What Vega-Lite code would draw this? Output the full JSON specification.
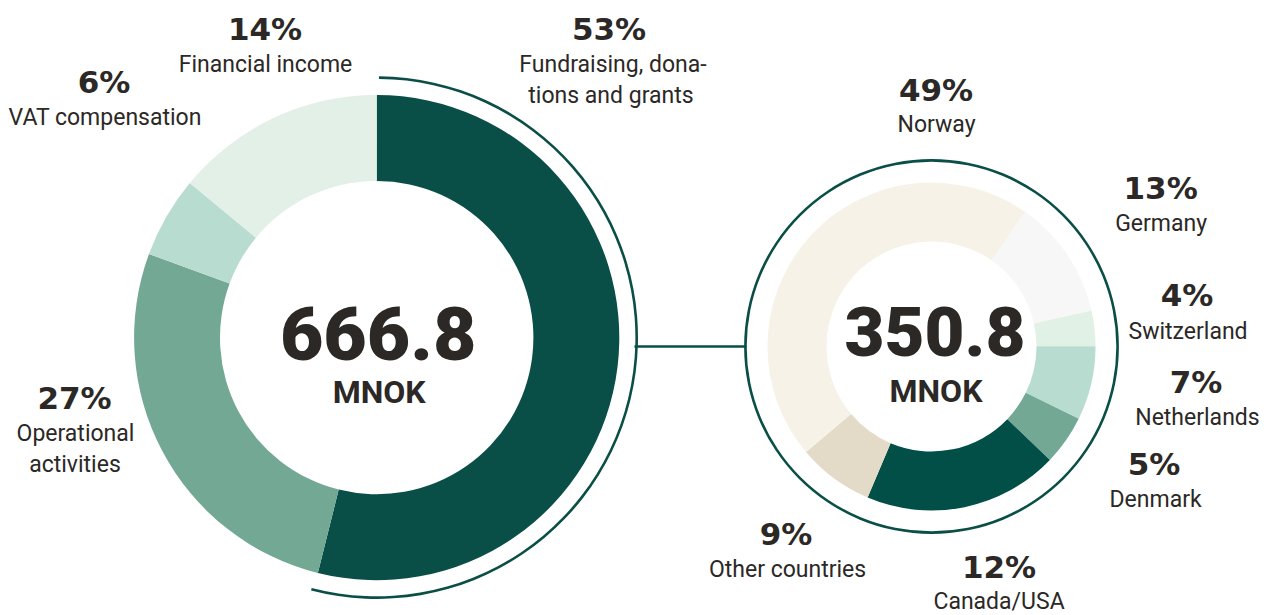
{
  "$schema": "https://vega.github.io/schema/vega-lite/v6.json",
  "width": 1268,
  "height": 615,
  "autosize": "none",
  "padding": 0,
  "background": "white",
  "config": {"view": {"stroke": null}, "text": {"fill": "#2b2826"}},
  "datasets": {
    "parts": [
      {"chart": "left", "key": "Fundraising", "share": 53.9, "order": 1, "pct": "53%", "name1": "Fundraising, dona-", "name2": "tions and grants"},
      {"chart": "left", "key": "Operational", "share": 26.7, "order": 2, "pct": "27%", "name1": "Operational", "name2": "activities"},
      {"chart": "left", "key": "VAT", "share": 5.4, "order": 3, "pct": "6%", "name1": "VAT compensation", "name2": ""},
      {"chart": "left", "key": "Financial", "share": 14.0, "order": 4, "pct": "14%", "name1": "Financial income", "name2": ""},
      {"chart": "right", "key": "Germany", "share": 11.8, "order": 1, "pct": "13%", "name1": "Germany", "name2": ""},
      {"chart": "right", "key": "Switzerland", "share": 3.5, "order": 2, "pct": "4%", "name1": "Switzerland", "name2": ""},
      {"chart": "right", "key": "Netherlands", "share": 7.3, "order": 3, "pct": "7%", "name1": "Netherlands", "name2": ""},
      {"chart": "right", "key": "Denmark", "share": 4.9, "order": 4, "pct": "5%", "name1": "Denmark", "name2": ""},
      {"chart": "right", "key": "Canada/USA", "share": 19.2, "order": 5, "pct": "12%", "name1": "Canada/USA", "name2": ""},
      {"chart": "right", "key": "Other countries", "share": 7.5, "order": 6, "pct": "9%", "name1": "Other countries", "name2": ""},
      {"chart": "right", "key": "Norway", "share": 45.8, "order": 7, "pct": "49%", "name1": "Norway", "name2": ""}
    ],
    "totals": [
      {"chart": "left", "total": "666.8", "unit": "MNOK"},
      {"chart": "right", "total": "350.8", "unit": "MNOK"}
    ]
  },
  "resolve": {"scale": {"theta": "independent"}},
  "layer": [
    {
      "data": {"name": "totals"},
      "encoding": {
        "x": {"field": "chart", "type": "nominal", "axis": null, "scale": {"type": "point", "domain": ["left", "right"], "range": [376.7, 931.5], "padding": 0}},
        "y": {"field": "chart", "type": "nominal", "axis": null, "scale": {"type": "point", "domain": ["left", "right"], "range": [337.6, 346.5], "padding": 0}}
      },
      "layer": [
        {
          "transform": [{"filter": "datum.chart === 'left'"}],
          "mark": {"type": "rule", "color": "#0a4f47", "strokeWidth": 2.6},
          "encoding": {
            "x": {"datum": "left", "type": "nominal"},
            "x2": {"datum": "right"},
            "y": {"datum": "right", "type": "nominal"}
          }
        },
        {
          "transform": [{"filter": "datum.chart === 'left'"}],
          "mark": {"type": "arc", "fill": "white", "innerRadius": 0, "outerRadius": 258, "theta": 0, "theta2": 6.2832}
        },
        {
          "transform": [{"filter": "datum.chart === 'right'"}],
          "mark": {"type": "arc", "fill": "white", "innerRadius": 0, "outerRadius": 185, "theta": 0, "theta2": 6.2832}
        },
        {
          "transform": [{"filter": "datum.chart === 'right'"}],
          "mark": {"type": "arc", "fill": "#0a4f47", "innerRadius": 184.8, "outerRadius": 187.4, "theta": 0, "theta2": 6.2832}
        }
      ]
    },
    {
      "data": {"name": "parts"},
      "transform": [{"filter": "datum.chart === 'left'"}],
      "encoding": {
        "x": {"field": "chart", "type": "nominal", "axis": null, "scale": {"type": "point", "domain": ["left", "right"], "range": [376.7, 931.5], "padding": 0}},
        "y": {"field": "chart", "type": "nominal", "axis": null, "scale": {"type": "point", "domain": ["left", "right"], "range": [337.6, 346.5], "padding": 0}},
        "theta": {"field": "share", "type": "quantitative", "stack": true, "scale": {"domain": [0, 100], "range": [0, 6.2832]}},
        "order": {"field": "order", "type": "quantitative"}
      },
      "layer": [
        {
          "mark": {"type": "arc", "innerRadius": 156.7, "outerRadius": 242.6},
          "encoding": {
            "color": {"field": "key", "type": "nominal", "legend": null,
              "scale": {"domain": ["Fundraising", "Operational", "VAT", "Financial", "Germany", "Switzerland", "Netherlands", "Denmark", "Canada/USA", "Other countries", "Norway"],
                        "range": ["#0a4f47", "#72a894", "#b8ddd0", "#e2f0e7", "#f7f7f7", "#e2f1e6", "#b8ddd0", "#72a894", "#024f47", "#e3dac8", "#f6f2e8"]}}
          }
        },
        {
          "transform": [{"filter": "datum.key === 'Fundraising'"}],
          "mark": {"type": "arc", "fill": "#0a4f47", "innerRadius": 258.7, "outerRadius": 261.3, "thetaOffset": 0.009, "theta2Offset": -0.122}
        },
        {"mark": {"type": "text", "radius": 270, "dx": -35.7, "dy": -330.6, "font": "DejaVu Sans", "fontWeight": "bold", "fontSize": 31, "align": "center", "baseline": "alphabetic"},
         "encoding": {"text": {"field": "pct", "type": "nominal", "condition": {"test": "datum.key !== 'Fundraising'", "value": ""}}}},
        {"mark": {"type": "text", "radius": 270, "dx": -31.7, "dy": -298.6, "font": "Roboto", "fontSize": 23, "align": "center", "baseline": "alphabetic"},
         "encoding": {"text": {"field": "name1", "type": "nominal", "condition": {"test": "datum.key !== 'Fundraising'", "value": ""}}}},
        {"mark": {"type": "text", "radius": 270, "dx": -33.7, "dy": -267.6, "font": "Roboto", "fontSize": 23, "align": "center", "baseline": "alphabetic"},
         "encoding": {"text": {"field": "name2", "type": "nominal", "condition": {"test": "datum.key !== 'Fundraising'", "value": ""}}}},
        {"mark": {"type": "text", "radius": 270, "dx": -63.6, "dy": -54.9, "font": "DejaVu Sans", "fontWeight": "bold", "fontSize": 31, "align": "center", "baseline": "alphabetic"},
         "encoding": {"text": {"field": "pct", "type": "nominal", "condition": {"test": "datum.key !== 'Operational'", "value": ""}}}},
        {"mark": {"type": "text", "radius": 270, "dx": -62.6, "dy": -22.9, "font": "Roboto", "fontSize": 23, "align": "center", "baseline": "alphabetic"},
         "encoding": {"text": {"field": "name1", "type": "nominal", "condition": {"test": "datum.key !== 'Operational'", "value": ""}}}},
        {"mark": {"type": "text", "radius": 270, "dx": -63.1, "dy": 8.1, "font": "Roboto", "fontSize": 23, "align": "center", "baseline": "alphabetic"},
         "encoding": {"text": {"field": "name2", "type": "nominal", "condition": {"test": "datum.key !== 'Operational'", "value": ""}}}},
        {"mark": {"type": "text", "radius": 270, "dx": -38.6, "dy": -110.1, "font": "DejaVu Sans", "fontWeight": "bold", "fontSize": 31, "align": "center", "baseline": "alphabetic"},
         "encoding": {"text": {"field": "pct", "type": "nominal", "condition": {"test": "datum.key !== 'VAT'", "value": ""}}}},
        {"mark": {"type": "text", "radius": 270, "dx": -37.6, "dy": -78.1, "font": "Roboto", "fontSize": 23, "align": "center", "baseline": "alphabetic"},
         "encoding": {"text": {"field": "name1", "type": "nominal", "condition": {"test": "datum.key !== 'VAT'", "value": ""}}}},
        {"mark": {"type": "text", "radius": 270, "dx": 3.3, "dy": -53.3, "font": "DejaVu Sans", "fontWeight": "bold", "fontSize": 31, "align": "center", "baseline": "alphabetic"},
         "encoding": {"text": {"field": "pct", "type": "nominal", "condition": {"test": "datum.key !== 'Financial'", "value": ""}}}},
        {"mark": {"type": "text", "radius": 270, "dx": 3.8, "dy": -21.3, "font": "Roboto", "fontSize": 23, "align": "center", "baseline": "alphabetic"},
         "encoding": {"text": {"field": "name1", "type": "nominal", "condition": {"test": "datum.key !== 'Financial'", "value": ""}}}}
      ]
    },
    {
      "data": {"name": "parts"},
      "transform": [{"filter": "datum.chart === 'right'"}],
      "encoding": {
        "x": {"field": "chart", "type": "nominal", "axis": null, "scale": {"type": "point", "domain": ["left", "right"], "range": [376.7, 931.5], "padding": 0}},
        "y": {"field": "chart", "type": "nominal", "axis": null, "scale": {"type": "point", "domain": ["left", "right"], "range": [337.6, 346.5], "padding": 0}},
        "theta": {"field": "share", "type": "quantitative", "stack": true, "scale": {"domain": [0, 100], "range": [0.6074, 6.8906]}},
        "order": {"field": "order", "type": "quantitative"}
      },
      "layer": [
        {
          "mark": {"type": "arc", "innerRadius": 105, "outerRadius": 164},
          "encoding": {
            "color": {"field": "key", "type": "nominal", "legend": null,
              "scale": {"domain": ["Fundraising", "Operational", "VAT", "Financial", "Germany", "Switzerland", "Netherlands", "Denmark", "Canada/USA", "Other countries", "Norway"],
                        "range": ["#0a4f47", "#72a894", "#b8ddd0", "#e2f0e7", "#f7f7f7", "#e2f1e6", "#b8ddd0", "#72a894", "#024f47", "#e3dac8", "#f6f2e8"]}}
          }
        },
        {"mark": {"type": "text", "radius": 200, "dx": 152.3, "dy": -110.8, "font": "DejaVu Sans", "fontWeight": "bold", "fontSize": 31, "align": "center", "baseline": "alphabetic"},
         "encoding": {"text": {"field": "pct", "type": "nominal", "condition": {"test": "datum.key !== 'Norway'", "value": ""}}}},
        {"mark": {"type": "text", "radius": 200, "dx": 152.8, "dy": -79.3, "font": "Roboto", "fontSize": 23, "align": "center", "baseline": "alphabetic"},
         "encoding": {"text": {"field": "name1", "type": "nominal", "condition": {"test": "datum.key !== 'Norway'", "value": ""}}}},
        {"mark": {"type": "text", "radius": 200, "dx": 63.2, "dy": -36.2, "font": "DejaVu Sans", "fontWeight": "bold", "fontSize": 31, "align": "center", "baseline": "alphabetic"},
         "encoding": {"text": {"field": "pct", "type": "nominal", "condition": {"test": "datum.key !== 'Germany'", "value": ""}}}},
        {"mark": {"type": "text", "radius": 200, "dx": 63.7, "dy": -4.2, "font": "Roboto", "fontSize": 23, "align": "center", "baseline": "alphabetic"},
         "encoding": {"text": {"field": "name1", "type": "nominal", "condition": {"test": "datum.key !== 'Germany'", "value": ""}}}},
        {"mark": {"type": "text", "radius": 200, "dx": 56.8, "dy": -18.1, "font": "DejaVu Sans", "fontWeight": "bold", "fontSize": 31, "align": "center", "baseline": "alphabetic"},
         "encoding": {"text": {"field": "pct", "type": "nominal", "condition": {"test": "datum.key !== 'Switzerland'", "value": ""}}}},
        {"mark": {"type": "text", "radius": 200, "dx": 57.8, "dy": 14.9, "font": "Roboto", "fontSize": 23, "align": "center", "baseline": "alphabetic"},
         "encoding": {"text": {"field": "name1", "type": "nominal", "condition": {"test": "datum.key !== 'Switzerland'", "value": ""}}}},
        {"mark": {"type": "text", "radius": 200, "dx": 69.6, "dy": 1.4, "font": "DejaVu Sans", "fontWeight": "bold", "fontSize": 31, "align": "center", "baseline": "alphabetic"},
         "encoding": {"text": {"field": "pct", "type": "nominal", "condition": {"test": "datum.key !== 'Netherlands'", "value": ""}}}},
        {"mark": {"type": "text", "radius": 200, "dx": 71.1, "dy": 33.4, "font": "Roboto", "fontSize": 23, "align": "center", "baseline": "alphabetic"},
         "encoding": {"text": {"field": "name1", "type": "nominal", "condition": {"test": "datum.key !== 'Netherlands'", "value": ""}}}},
        {"mark": {"type": "text", "radius": 200, "dx": 58.6, "dy": 13.4, "font": "DejaVu Sans", "fontWeight": "bold", "fontSize": 31, "align": "center", "baseline": "alphabetic"},
         "encoding": {"text": {"field": "pct", "type": "nominal", "condition": {"test": "datum.key !== 'Denmark'", "value": ""}}}},
        {"mark": {"type": "text", "radius": 200, "dx": 60.2, "dy": 45.9, "font": "Roboto", "fontSize": 23, "align": "center", "baseline": "alphabetic"},
         "encoding": {"text": {"field": "name1", "type": "nominal", "condition": {"test": "datum.key !== 'Denmark'", "value": ""}}}},
        {"mark": {"type": "text", "radius": 200, "dx": 27.2, "dy": 35.6, "font": "DejaVu Sans", "fontWeight": "bold", "fontSize": 31, "align": "center", "baseline": "alphabetic"},
         "encoding": {"text": {"field": "pct", "type": "nominal", "condition": {"test": "datum.key !== 'Canada/USA'", "value": ""}}}},
        {"mark": {"type": "text", "radius": 200, "dx": 27.2, "dy": 67.1, "font": "Roboto", "fontSize": 23, "align": "center", "baseline": "alphabetic"},
         "encoding": {"text": {"field": "name1", "type": "nominal", "condition": {"test": "datum.key !== 'Canada/USA'", "value": ""}}}},
        {"mark": {"type": "text", "radius": 200, "dx": -26.8, "dy": 37.6, "font": "DejaVu Sans", "fontWeight": "bold", "fontSize": 31, "align": "center", "baseline": "alphabetic"},
         "encoding": {"text": {"field": "pct", "type": "nominal", "condition": {"test": "datum.key !== 'Other countries'", "value": ""}}}},
        {"mark": {"type": "text", "radius": 200, "dx": -25.2, "dy": 69.6, "font": "Roboto", "fontSize": 23, "align": "center", "baseline": "alphabetic"},
         "encoding": {"text": {"field": "name1", "type": "nominal", "condition": {"test": "datum.key !== 'Other countries'", "value": ""}}}}
      ]
    },
    {
      "data": {"name": "totals"},
      "encoding": {
        "x": {"field": "chart", "type": "nominal", "axis": null, "scale": {"type": "point", "domain": ["left", "right"], "range": [376.7, 931.5], "padding": 0}},
        "y": {"field": "chart", "type": "nominal", "axis": null, "scale": {"type": "point", "domain": ["left", "right"], "range": [337.6, 346.5], "padding": 0}}
      },
      "layer": [
        {"transform": [{"filter": "datum.chart === 'left'"}],
         "mark": {"type": "text", "dx": 1.5, "dy": 22.4, "font": "Roboto", "fontWeight": 900, "fontSize": 75, "align": "center", "baseline": "alphabetic"},
         "encoding": {"text": {"field": "total", "type": "nominal"}}},
        {"transform": [{"filter": "datum.chart === 'left'"}],
         "mark": {"type": "text", "dx": 2.5, "dy": 65.4, "font": "Roboto", "fontWeight": "bold", "fontSize": 32, "align": "center", "baseline": "alphabetic"},
         "encoding": {"text": {"field": "unit", "type": "nominal"}}},
        {"transform": [{"filter": "datum.chart === 'right'"}],
         "mark": {"type": "text", "dx": 3.5, "dy": 9.5, "font": "Roboto", "fontWeight": 900, "fontSize": 69, "align": "center", "baseline": "alphabetic"},
         "encoding": {"text": {"field": "total", "type": "nominal"}}},
        {"transform": [{"filter": "datum.chart === 'right'"}],
         "mark": {"type": "text", "dx": 4.5, "dy": 55.5, "font": "Roboto", "fontWeight": "bold", "fontSize": 32, "align": "center", "baseline": "alphabetic"},
         "encoding": {"text": {"field": "unit", "type": "nominal"}}}
      ]
    }
  ]
}
